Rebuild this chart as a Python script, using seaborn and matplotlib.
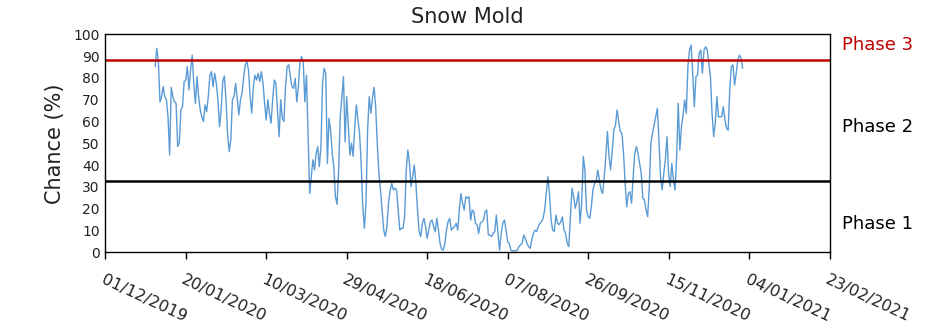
import matplotlib
matplotlib.use("Agg")
from matplotlib import pyplot as plt
import matplotlib.transforms as mtransforms
import pandas as pd
import seaborn as sns

# daily chance values, 1 Jan 2020 onwards
start_date = "2020-01-01"
chance_q1 = [
    85.2, 93.6, 87.5, 69, 71.4, 76, 71.4, 70, 62, 44.6,
    75.7, 71.4, 69, 68.3, 48.5, 50, 65.3, 66.8, 78.3, 79,
    85.2, 74.5, 83.6, 90.5, 77.5, 68.3, 80.6, 71.4, 65.3, 62.2,
    60, 67.6, 64.5, 71.4, 81.3, 82.9, 76, 82.1, 77.5, 70,
    57.6, 65.3, 78.3, 80.9, 70, 54.6, 46.2, 51.5, 70, 71.4,
    77.5, 70, 63, 70, 73, 80.6, 86, 87.5, 83.6, 71.4,
    63.8, 76, 81.3, 79, 82.1, 78.3, 82.9, 77.5, 68.3, 60.7,
    70, 63.8, 59.2, 70, 79, 77.5, 65.3, 53, 70, 61.5,
    60, 76, 85.2, 86, 80.6, 76, 75.2, 79.8, 69, 76,
    87.5, 89.8, 87.5, 69, 81.3, 54.6, 27, 34.7, 42.4, 37.8,
    45.4, 48.5, 39.3, 48.5, 77.5, 84.4, 82.1, 40.8, 61.5,
]
chance_q2 = [
    56, 45.4, 39.3, 25.5, 22, 37.8, 62, 71.4, 80.6,
    50.7, 71.4, 57.6, 44.6, 50, 44, 57.6, 67.6, 60.7, 54.6,
    40.8, 20.9, 11, 22.5, 56, 71.4, 63.8, 70.6, 75.7, 66.8,
    50, 36.2, 28.6, 19.4, 10.2, 7.2, 11.8, 22.5, 28.6, 31.6,
    28.6, 29.4, 28.6, 19.4, 10.2, 11, 11, 16.3, 37.8, 46.9,
    40.8, 30.1, 34.7, 40, 31.6, 19.4, 9.5, 7.2, 13.3, 15.6,
    11.8, 6.4, 10.2, 14, 14.8, 11.8, 9.5, 15.6, 10.2, 4.1,
    1.4, 1, 4.1, 10.2, 14, 15.6, 10.2, 11, 11.8, 13.3,
]
chance_q3 = [
    10.2, 19.4, 27, 22.5, 19.4, 25.5, 24.8, 25.5, 14.8, 19.4,
    18.6, 13.3, 12.7, 8.7, 13.3, 14, 14.8, 18.6, 19.4, 7.9,
    7.9, 7.2, 8.7, 9.5, 17.1, 8.7, 1, 8.7, 13.3, 14.8,
    10.2, 4.9, 4.1, 1, 0.7, 0.7, 0.7, 1, 2.6, 3.4,
    4.1, 7.9, 6.4, 4.1, 2.6, 1.8, 5.7, 8.7, 10.2, 9.5,
    11.8, 13.3, 14, 15.6, 19.4, 27, 34.7, 27, 14.8, 10.2, 9.5,
    17.1, 13.3, 12.7, 14, 16.3, 10.2, 8.7, 4.1, 2.6, 16.3,
    29.4, 25.5, 20.2, 23.2, 27.8, 13.3, 22.5, 43.9, 37.8, 19.4,
    16.3, 15.6, 20.9, 28.6, 31.6, 32.4, 37.8, 33.2, 28.6, 27,
]
chance_q4 = [
    34.7, 43.9, 55.4, 43.9, 37.8, 46.9, 56, 58.4, 65.3, 59.9,
    55.4, 54.6, 45.4, 31.6, 20.9, 27, 27.8, 22.5, 34.7, 45.4,
    48.5, 45.4, 40.8, 36.2, 24.8, 24, 19.4, 16.3, 30.1, 50,
    54.6, 58.4,
    62.2, 66, 51.5, 34.7, 28.6, 36.2, 42.4, 53, 36.2, 30.1,
    40.8, 33.2, 28.6, 43.9, 68.3, 46.9, 57.6, 63, 69.9, 63.8,
    85.2, 92.8, 95.1, 82.1, 66.8, 80.6, 81.3, 91.3, 92.8, 82.1,
    92.8, 94.3, 92.8, 86.7, 80.6, 63.8, 53, 59.2, 71.4, 62.2,
    62.2, 62.2, 66.8, 60.7, 56.9, 56, 74.5, 85.2, 86, 76.7,
    82.1, 88.2, 90.5, 89, 84.4,
]
chance = chance_q1 + chance_q2 + chance_q3 + chance_q4

phase2_limit = 32.5
phase3_limit = 88
phase_names = ["Phase 1", "Phase 2", "Phase 3"]
phase_colors = ["black", "black", "#C00000"]
axis_start, axis_end = "2019-12-01", "2021-02-23"

df = pd.DataFrame({
    "date": pd.date_range(start_date, periods=len(chance), freq="D"),
    "chance": chance,
})
print(len(chance), df["date"].iloc[-1])

sns.set_style("ticks")
plt.rcParams["font.family"] = ["DejaVu Sans"]

fig = plt.figure(figsize=(9.25, 3.28), dpi=100)
ax = fig.add_axes([0.1138, 0.2308, 0.7830, 0.6646])

sns.lineplot(data=df, x="date", y="chance", ax=ax, color="#5B9BD5", linewidth=1)
ax.axhline(phase3_limit, color="#C00000", linewidth=1.8)
ax.axhline(phase2_limit, color="black", linewidth=1.8)

ticks = pd.date_range(axis_start, axis_end, freq="50D")
ax.set_xlim(pd.Timestamp(axis_start), pd.Timestamp(axis_end))
ax.set_xticks(ticks)
ax.set_xticklabels([t.strftime("%d/%m/%Y") for t in ticks], rotation=-25,
                   ha="left", va="top", rotation_mode="anchor", fontsize=11.5,
                   color="#222222")
ax.set_ylim(0, 100)
ax.set_yticks(range(0, 101, 10))
ax.tick_params(axis="y", length=0, pad=4, labelsize=10, labelcolor="#222222")
ax.tick_params(axis="x", length=5, width=1, pad=9, color="black")
for s in ax.spines.values():
    s.set_visible(True)
    s.set_color("black")
    s.set_linewidth(1)

ax.set_xlabel("")
ax.set_ylabel("Chance (%)", fontsize=15, color="#222222", labelpad=6)
ax.set_title("Snow Mold", fontsize=15, color="#222222", pad=8)

trans = mtransforms.blended_transform_factory(ax.transAxes, ax.transData)
for name, col, yv in zip(phase_names, phase_colors, [13, 57.6, 95]):
    ax.text(1.017, yv, name, transform=trans, ha="left", va="center",
            fontsize=13, color=col)

plt.savefig("out.png", dpi=100)
